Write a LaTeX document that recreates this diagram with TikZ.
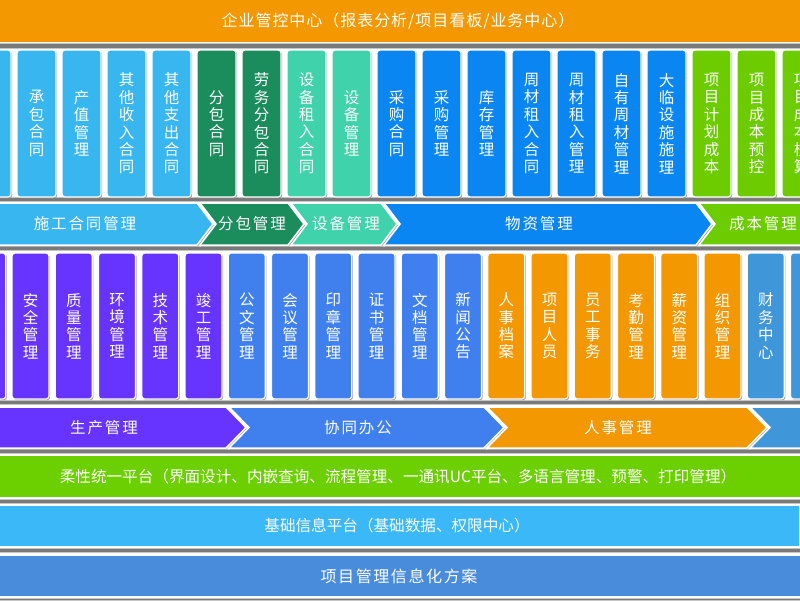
\documentclass[tikz,border=0pt]{standalone}
\usepackage{fontspec}
\usetikzlibrary{shadows}
\newfontfamily\cjk{Noto Sans CJK SC}
\newfontfamily\cjksp{Noto Sans CJK SC}[LetterSpace=12]
\newfontfamily\cjkmid{Noto Sans CJK SC}[LetterSpace=6]
\newfontfamily\cjkwide{Noto Sans CJK SC}[LetterSpace=10]
\definecolor{cOrange}{HTML}{F39800}
\definecolor{cLBlue}{HTML}{38B6F0}
\definecolor{cDGreen}{HTML}{1B8C5B}
\definecolor{cTeal}{HTML}{40D2AA}
\definecolor{cBlue}{HTML}{0A86F2}
\definecolor{cGreen}{HTML}{6CCC00}
\definecolor{cPurple}{HTML}{6633FF}
\definecolor{cBlueB}{HTML}{4080EE}
\definecolor{cSteel}{HTML}{3F96D8}
\definecolor{cBarGreen}{HTML}{6CCF00}
\definecolor{cBarLBlue}{HTML}{3AB8F8}
\definecolor{cBarBlue}{HTML}{4A8CDC}
\definecolor{cBand}{HTML}{7A7A7A}
\tikzset{
  cardbox/.style={rounded corners=3pt, draw=white, line width=1.2pt, text=white,
    font=\cjk\fontsize{15.5}{17.4}\selectfont, align=center, inner sep=0pt,
    drop shadow={shadow xshift=1.2pt, shadow yshift=-1.2pt, fill=gray!75, opacity=1}},
  barbox/.style={minimum width=806pt, inner sep=0pt, draw=white, line width=1.2pt, text=white},
  chevshape/.style={draw=white, line width=1.5pt, line join=miter,
    drop shadow={shadow xshift=1.2pt, shadow yshift=-1.5pt, fill=gray!75, opacity=1}},
  chevtext/.style={text=white, font=\cjksp\fontsize{15.5}{18}\selectfont, inner sep=0pt},
}
% x1, x2, ytop, ybot, depth, notch(0/1), colour
\newcommand\mychev[7]{%
  \path[chevshape, fill=#7] (#1,#3) -- (#2,#3) -- ({#2+#5},{(#3+#4)/2}) -- (#2,#4)
    -- (#1,#4) -- ({#1+#6*#5},{(#3+#4)/2}) -- cycle;}
\begin{document}
\begin{tikzpicture}[x=1pt,y=-1pt]
\useasboundingbox (0,0) rectangle (800,600);
\clip (0,0) rectangle (800,600);
\fill[white] (0,0) rectangle (800,600);
% grey bands
\foreach \a/\b in {43/49, 197/202, 246/251, 400/405, 449/454, 499/504, 548/553, 598/601} {
  \fill[gray!45] (0,\a) rectangle (800,\b);
  \fill[cBand] (0,\a+1) rectangle (800,\b-1.5);
}
% top bar
\node[barbox, fill=cOrange, minimum height=43pt, font=\cjkmid\fontsize{16}{18}\selectfont] (top) at (398,21) {企业管控中心（报表分析/项目看板/业务中心）};
% row 1 cards
\foreach \k/\c/\t in {
  -1/cLBlue/{},
  0/cLBlue/{承\\包\\合\\同},
  1/cLBlue/{产\\值\\管\\理},
  2/cLBlue/{其\\他\\收\\入\\合\\同},
  3/cLBlue/{其\\他\\支\\出\\合\\同},
  4/cDGreen/{分\\包\\合\\同},
  5/cDGreen/{劳\\务\\分\\包\\合\\同},
  6/cTeal/{设\\备\\租\\入\\合\\同},
  7/cTeal/{设\\备\\管\\理},
  8/cBlue/{采\\购\\合\\同},
  9/cBlue/{采\\购\\管\\理},
  10/cBlue/{库\\存\\管\\理},
  11/cBlue/{周\\材\\租\\入\\合\\同},
  12/cBlue/{周\\材\\租\\入\\管\\理},
  13/cBlue/{自\\有\\周\\材\\管\\理},
  14/cBlue/{大\\临\\设\\施\\施\\理},
  15/cGreen/{项\\目\\计\\划\\成\\本},
  16/cGreen/{项\\目\\成\\本\\预\\控},
  17/cGreen/{项\\目\\成\\本\\核\\算}} {
  \node[cardbox, fill=\c, minimum width=39pt, minimum height=147pt] (ra\k) at ({36.5+45*\k},123.5) {\t};
}
% chevron row 1
\mychev{-10}{197}{203}{245}{16}{0}{cLBlue}
\mychev{200}{288}{203}{245}{16}{1}{cDGreen}
\mychev{291}{381}{203}{245}{16}{1}{cTeal}
\mychev{384}{696}{203}{245}{16}{1}{cBlue}
\mychev{699}{830}{203}{245}{16}{1}{cGreen}
\node[chevtext] (ca1) at (85,224) {施工合同管理};
\node[chevtext] (ca2) at (252,224) {分包管理};
\node[chevtext] (ca3) at (346,224) {设备管理};
\node[chevtext] (ca4) at (539,224) {物资管理};
\node[chevtext] (ca5) at (763,224) {成本管理};
% row 2 cards
\foreach \k/\c/\t in {
  -1/cPurple/{},
  0/cPurple/{安\\全\\管\\理},
  1/cPurple/{质\\量\\管\\理},
  2/cPurple/{环\\境\\管\\理},
  3/cPurple/{技\\术\\管\\理},
  4/cPurple/{竣\\工\\管\\理},
  5/cBlueB/{公\\文\\管\\理},
  6/cBlueB/{会\\议\\管\\理},
  7/cBlueB/{印\\章\\管\\理},
  8/cBlueB/{证\\书\\管\\理},
  9/cBlueB/{文\\档\\管\\理},
  10/cBlueB/{新\\闻\\公\\告},
  11/cOrange/{人\\事\\档\\案},
  12/cOrange/{项\\目\\人\\员},
  13/cOrange/{员\\工\\事\\务},
  14/cOrange/{考\\勤\\管\\理},
  15/cOrange/{薪\\资\\管\\理},
  16/cOrange/{组\\织\\管\\理},
  17/cSteel/{财\\务\\中\\心},
  18/cSteel/{}} {
  \node[cardbox, fill=\c, minimum width=37pt, minimum height=146pt] (rb\k) at ({30.5+43.25*\k},326) {\t};
}
% chevron row 2
\mychev{-10}{226}{407}{448}{20}{0}{cPurple}
\mychev{229}{484}{407}{448}{20}{1}{cBlueB}
\mychev{487}{747}{407}{448}{20}{1}{cOrange}
\mychev{750}{830}{407}{448}{20}{1}{cSteel}
\node[chevtext] (cb1) at (104,428) {生产管理};
\node[chevtext] (cb2) at (358,428) {协同办公};
\node[chevtext] (cb3) at (618,428) {人事管理};
% bottom bars
\node[barbox, fill=cBarGreen, minimum height=43pt, font=\cjk\fontsize{15.6}{18}\selectfont] (plat) at (398,476.5) {柔性统一平台（界面设计、内嵌查询、流程管理、一通讯UC平台、多语言管理、预警、打印管理）};
\node[barbox, fill=cBarLBlue, minimum height=42pt, font=\cjk\fontsize{15.6}{18}\selectfont] (base) at (397,526) {基础信息平台（基础数据、权限中心）};
\node[barbox, fill=cBarBlue, minimum height=42pt, font=\cjkwide\fontsize{16}{18}\selectfont] (plan) at (399,576) {项目管理信息化方案};
\end{tikzpicture}
\end{document}
